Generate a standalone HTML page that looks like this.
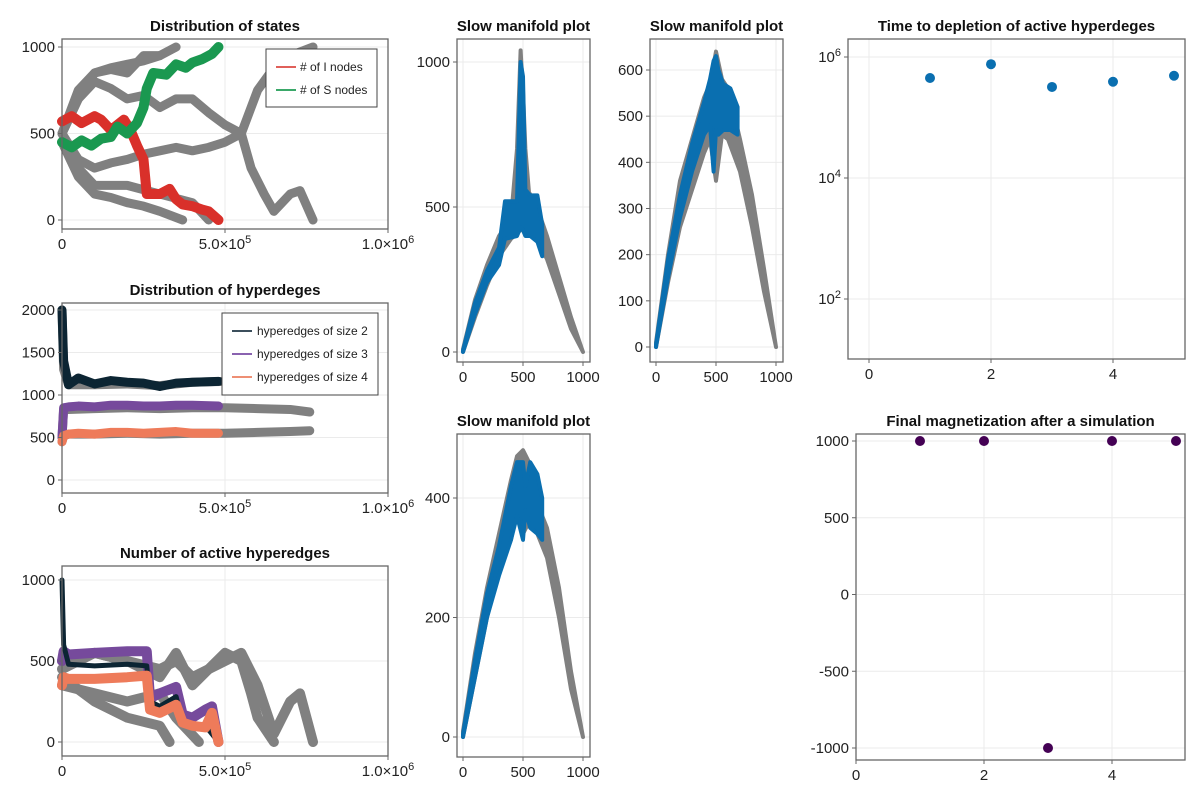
<!DOCTYPE html>
<html><head><meta charset="utf-8"><style>
body{margin:0;background:#fff;}
svg{display:block;font-family:"Liberation Sans",sans-serif;}
.t{font-weight:bold;font-size:15px;fill:#111;text-anchor:middle;}
.tk{font-size:15px;fill:#222;}
</style></head><body>
<svg id="c" width="1200" height="800" xmlns="http://www.w3.org/2000/svg"></svg>
<script>
// ---- data ----
const statesT = [0,0.3,0.6,1,1.2,1.5,1.9,2.1,2.3,2.5,2.6,3,3.3,3.5,3.7,4,4.3,4.5,4.8];
const statesI = [570,600,560,600,580,520,580,520,430,350,150,150,180,120,90,80,60,50,0];
const statesST = [0,0.3,0.6,0.9,1.2,1.5,1.7,2,2.3,2.5,2.6,2.8,3.2,3.5,3.8,4,4.3,4.6,4.8];
const statesS = [450,420,460,430,470,480,540,500,560,650,760,850,840,900,880,910,930,960,1000];
const grayStates = [
 [[0,0.5,1,1.5,2,2.5,3,3.5],[500,750,850,880,900,920,950,1000]],
 [[0,0.5,1,1.5,2,2.5,3,3.7],[450,250,150,130,100,80,50,0]],
 [[0,0.5,1,1.5,2,2.5,3,3.5,4,4.5,5,5.5,6,6.5,7,7.7],[500,700,800,760,700,720,650,700,700,620,550,500,750,880,950,1000]],
 [[0,0.5,1,1.5,2,2.5,3,3.5,4,4.5,5,5.5,5.8,6.2,6.5,7,7.3,7.7],[500,350,300,330,350,380,400,420,400,420,450,500,300,150,50,150,170,0]],
 [[0,0.5,1,2,3,4,4.5],[500,300,200,200,150,100,0]],
 [[0,0.5,1,1.5,2,2.5,3],[500,700,850,870,850,950,950]]
];
const hypT = [0,0.05,0.2,0.5,1,1.5,2,2.5,3,3.5,4,4.8];
const hyp2 = [2000,1400,1120,1200,1130,1170,1150,1140,1100,1140,1150,1160];
const hyp3 = [500,850,860,870,860,880,880,870,870,880,880,870];
const hyp4 = [450,520,540,550,540,560,560,550,560,570,550,550];
const grayHypT = [0,0.05,0.2,1,2,3,4,5,6,7,7.6];
const grayHyp = [
 [2000,1300,1120,1120,1130,1110,1150,1160,1150,1150,1150],
 [500,830,830,840,850,840,850,850,840,830,800],
 [450,520,540,540,550,540,550,550,560,570,580]
];
const actT = [0,0.05,0.2,1,2,2.6,2.7,3,3.5,3.7,4,4.4,4.6,4.8];
const act2 = [1000,600,480,470,480,470,250,220,280,120,100,100,50,0];
const act3 = [500,560,540,550,560,560,270,300,340,170,150,200,220,0];
const act4 = [350,400,390,390,400,410,200,180,230,120,100,90,180,0];
const grayAct = [
 [[0,1,2,3,3.5,4,4.5,5,5.5,6,6.5,7,7.3,7.7],[450,550,500,450,500,400,450,500,550,350,50,250,300,0]],
 [[0,1,2,3,3.3],[400,250,150,100,0]],
 [[0,1,2,3,3.5,4,4.5,5,5.5,5.8,6,6.5],[500,550,500,400,550,350,450,550,500,300,150,0]],
 [[0,1,2,3,3.5,4.2],[350,300,250,300,150,0]]
];
const sm1X = [0,100,200,300,400,450,480,500,520,550,600,700,800,900,1000];
const sm1Up = [10,180,300,400,460,700,1040,900,700,550,520,400,260,120,0];
const sm1Lo = [0,120,230,330,390,410,420,430,420,410,400,320,200,80,0];
const sm1bX = [0,100,200,300,350,450,480,500,520,560,620,660];
const sm1bUp = [5,170,280,360,520,520,1000,950,560,540,540,440];
const sm1bLo = [0,130,240,300,390,400,430,420,400,400,380,330];
const sm2X = [0,100,200,300,400,450,500,550,600,700,800,900,1000];
const sm2Up = [10,200,360,450,540,570,640,580,560,450,330,170,0];
const sm2Lo = [0,140,260,340,420,450,360,460,450,380,260,120,0];
const sm2bX = [0,100,200,300,400,450,480,500,520,560,620,680];
const sm2bUp = [5,190,330,440,530,580,620,630,600,570,560,520];
const sm2bLo = [0,150,280,380,460,480,380,470,460,470,470,460];
const sm3X = [0,100,200,300,400,450,500,550,600,700,800,900,1000];
const sm3Up = [10,140,250,340,430,470,480,460,400,350,250,110,0];
const sm3Lo = [0,100,200,280,330,380,340,360,350,300,200,80,0];
const sm3bX = [0,100,200,300,400,450,500,520,560,620,660];
const sm3bUp = [5,130,240,320,420,460,460,420,460,440,400];
const sm3bLo = [0,100,200,270,330,370,330,380,350,340,330];
const depX = [1,2,3,4,5];
const depY = [4.5e5,7.6e5,3.2e5,3.9e5,4.9e5];
const magX = [1,2,3,4,5];
const magY = [1000,1000,-1000,1000,1000];

// ---- helpers ----
const S = document.getElementById('c');
const NS = 'http://www.w3.org/2000/svg';
function el(tag, attrs, parent){const e=document.createElementNS(NS,tag);for(const k in attrs)e.setAttribute(k,attrs[k]);(parent||S).appendChild(e);return e;}
function lin(d0,d1,p0,p1){return v=>p0+(v-d0)*(p1-p0)/(d1-d0);}
function panel(name,box,title,xs,ys,xt,yt){
  const g=el('g',{});
  
  
  const [x0,y0,x1,y1]=box;
  xt.forEach(t=>{const p=xs(t[0]);el('line',{x1:p,x2:p,y1:y0,y2:y1,stroke:'#ebebeb'},g);});
  yt.forEach(t=>{const p=ys(t[0]);el('line',{x1:x0,x2:x1,y1:p,y2:p,stroke:'#ebebeb'},g);});
  const tt=el('text',{x:(x0+x1)/2,y:y0-8,class:'t'},g);tt.textContent=title;
  
  
  const marks=el('g',{},g);
  el('rect',{x:x0,y:y0,width:x1-x0,height:y1-y0,fill:'none',stroke:'#666','stroke-width':1.3},g);
  xt.forEach(t=>{const p=xs(t[0]);el('line',{x1:p,x2:p,y1:y1,y2:y1+4,stroke:'#666'},g);
    const e=el('text',{x:p,y:y1+20,class:'tk','text-anchor':'middle'},g);e.innerHTML=t[1];});
  yt.forEach(t=>{const p=ys(t[0]);el('line',{x1:x0-4,x2:x0,y1:p,y2:p,stroke:'#666'},g);
    const e=el('text',{x:x0-7,y:p+5,class:'tk','text-anchor':'end'},g);e.innerHTML=t[1];});
  return marks;
}
function line(g,xs,ys,X,Y,col,w,name){
  const p=el('polyline',{points:X.map((x,i)=>xs(x)+','+ys(Y[i])).join(' '),fill:'none',stroke:col,'stroke-width':w,'stroke-linejoin':'round','stroke-linecap':'round'},g);
  
  
}
function band(g,xs,ys,X,U,L,col,name){
  const pts=X.map((x,i)=>xs(x)+','+ys(U[i])).concat(X.map((x,i)=>xs(x)+','+ys(L[i])).reverse());
  const p=el('polygon',{points:pts.join(' '),fill:col,stroke:col,'stroke-width':4,'stroke-linejoin':'round'},g);
  
  
}
const tx=[[0,'0'],[5,'5.0×10<tspan dy="-6" font-size="11">5</tspan>'],[10,'1.0×10<tspan dy="-6" font-size="11">6</tspan>']];
const GR='#808080';

// Panel A
{const xs=lin(0,10,62,388),ys=lin(0,1000,220,47);
 const g=panel('states-panel',[62,39,388,229],'Distribution of states',xs,ys,tx,[[0,'0'],[500,'500'],[1000,'1000']]);
 grayStates.forEach(t=>line(g,xs,ys,t[0],t[1],GR,9,'gray-state-trajectory'));
 line(g,xs,ys,statesT,statesI,'#d9302a',10,'i-nodes-line');
 line(g,xs,ys,statesST,statesS,'#1a9850',10,'s-nodes-line');
 const lg=el('g',{},S);
 el('rect',{x:266,y:49,width:111,height:58,fill:'#fff',stroke:'#444'},lg);
 [['# of I nodes','#e0605a',67],['# of S nodes','#3aa869',90]].forEach(r=>{el('line',{x1:276,x2:296,y1:r[2],y2:r[2],stroke:r[1],'stroke-width':2},lg);const t=el('text',{x:300,y:r[2]+4,'font-size':12,fill:'#222'},lg);t.textContent=r[0];});
}
// Panel B
{const xs=lin(0,10,62,388),ys=lin(0,2000,480,310);
 const g=panel('hyperedges-panel',[62,303,388,493],'Distribution of hyperdeges',xs,ys,tx,[[0,'0'],[500,'500'],[1000,'1000'],[1500,'1500'],[2000,'2000']]);
 grayHyp.forEach(s=>line(g,xs,ys,grayHypT,s,GR,9,'gray-hyperedge-line'));
 line(g,xs,ys,hypT,hyp2,'#0c2533',9,'size2-line');
 line(g,xs,ys,hypT,hyp3,'#764a9c',9,'size3-line');
 line(g,xs,ys,hypT,hyp4,'#ee7b5a',9,'size4-line');
 const lg=el('g',{},S);
 el('rect',{x:222,y:313,width:156,height:82,fill:'#fff',stroke:'#444'},lg);
 [['hyperedges of size 2','#3c4f5c',331],['hyperedges of size 3','#8a62b0',354],['hyperedges of size 4','#ee8f74',377]].forEach(r=>{el('line',{x1:232,x2:252,y1:r[2],y2:r[2],stroke:r[1],'stroke-width':2},lg);const t=el('text',{x:257,y:r[2]+4,'font-size':12,fill:'#222'},lg);t.textContent=r[0];});
}
// Panel C
{const xs=lin(0,10,62,388),ys=lin(0,1000,742,580);
 const g=panel('active-panel',[62,566,388,756],'Number of active hyperedges',xs,ys,tx,[[0,'0'],[500,'500'],[1000,'1000']]);
 grayAct.forEach(t=>line(g,xs,ys,t[0],t[1],GR,10,'gray-active-line'));
 line(g,xs,ys,actT,act3,'#764a9c',10,'active-size3');
 line(g,xs,ys,actT,act2,'#0c2533',5,'active-size2');
 line(g,xs,ys,actT,act4,'#ee7b5a',10,'active-size4');
}
// Slow manifolds
const smx=[[0,'0'],[500,'500'],[1000,'1000']];
{const xs=lin(0,1000,463,583),ys=lin(0,1000,352,62);
 const g=panel('slow-manifold-1',[457,39,590,362],'Slow manifold plot',xs,ys,smx,[[0,'0'],[500,'500'],[1000,'1000']]);
 band(g,xs,ys,sm1X,sm1Up,sm1Lo,GR,'gray-manifold');band(g,xs,ys,sm1bX,sm1bUp,sm1bLo,'#0a6fb0','blue-manifold');}
{const xs=lin(0,1000,656,776),ys=lin(0,600,347,70);
 const g=panel('slow-manifold-2',[650,39,783,362],'Slow manifold plot',xs,ys,smx,[[0,'0'],[100,'100'],[200,'200'],[300,'300'],[400,'400'],[500,'500'],[600,'600']]);
 band(g,xs,ys,sm2X,sm2Up,sm2Lo,GR,'gray-manifold');band(g,xs,ys,sm2bX,sm2bUp,sm2bLo,'#0a6fb0','blue-manifold');}
{const xs=lin(0,1000,463,583),ys=lin(0,400,737,498);
 const g=panel('slow-manifold-3',[457,434,590,757],'Slow manifold plot',xs,ys,smx,[[0,'0'],[200,'200'],[400,'400']]);
 band(g,xs,ys,sm3X,sm3Up,sm3Lo,GR,'gray-manifold');band(g,xs,ys,sm3bX,sm3bUp,sm3bLo,'#0a6fb0','blue-manifold');}
// Depletion
{const xs=lin(0,2,869,991),ly=lin(6,4,57,178),ys=v=>ly(Math.log10(v));
 const g=panel('depletion-panel',[848,39,1185,359],'Time to depletion of active hyperdeges',xs,ys,[[0,'0'],[2,'2'],[4,'4']],[[1e2,'10<tspan dy="-6" font-size="11">2</tspan>'],[1e4,'10<tspan dy="-6" font-size="11">4</tspan>'],[1e6,'10<tspan dy="-6" font-size="11">6</tspan>']]);
 depX.forEach((x,i)=>{const c=el('circle',{cx:xs(x),cy:ys(depY[i]),r:5,fill:'#0a6fb0'},g);});}
// Magnetization
{const xs=lin(0,2,856,984),ys=lin(-1000,1000,748,441);
 const g=panel('magnetization-panel',[856,434,1185,760],'Final magnetization after a simulation',xs,ys,[[0,'0'],[2,'2'],[4,'4']],[[-1000,'-1000'],[-500,'-500'],[0,'0'],[500,'500'],[1000,'1000']]);
 magX.forEach((x,i)=>{const c=el('circle',{cx:xs(x),cy:ys(magY[i]),r:5,fill:'#440154'},g);});}
</script>
</body></html>
